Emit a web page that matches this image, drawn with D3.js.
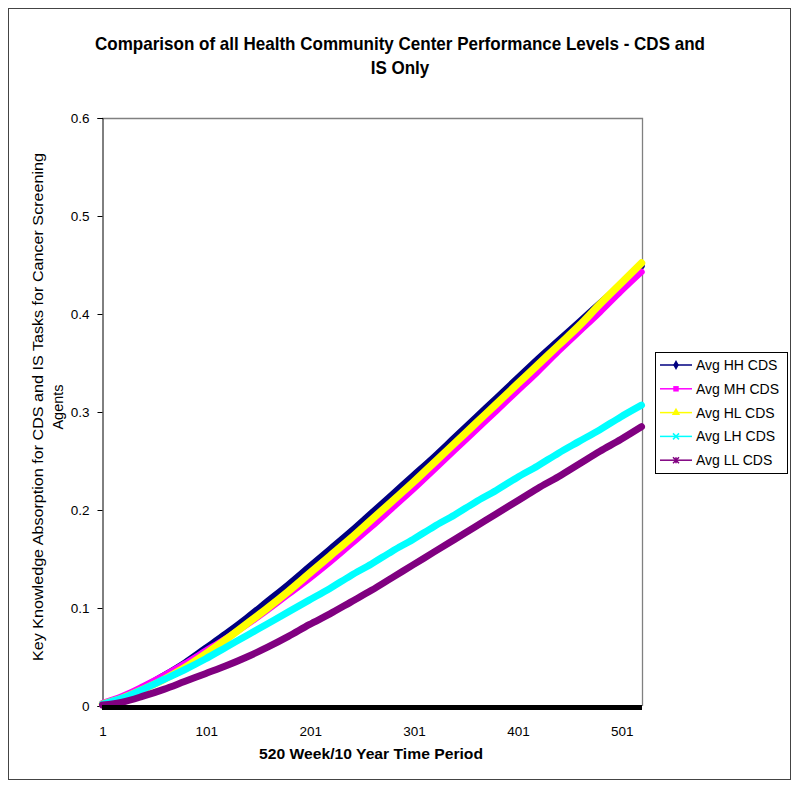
<!DOCTYPE html>
<html>
<head>
<meta charset="utf-8">
<script src="https://cdn.jsdelivr.net/npm/d3@7"></script>
<style>
  html, body { margin: 0; padding: 0; background: #fff; }
  svg { display: block; }
  text { font-family: "Liberation Sans", Arial, sans-serif; }
</style>
</head>
<body>
<svg id="chart" width="800" height="790"></svg>
<script>
// ---- data ----
const weeks = [1,20,40,60,80,100,120,140,160,180,200,220,240,260,280,300,320,340,360,380,400,420,440,460,480,500,520];
const avgHH = [0.002,0.009,0.019,0.031,0.044,0.059,0.074,0.090,0.107,0.124,0.142,0.160,0.178,0.197,0.216,0.235,0.254,0.274,0.294,0.314,0.334,0.354,0.373,0.392,0.411,0.430,0.449];
const avgMH = [0.003,0.010,0.020,0.031,0.043,0.056,0.069,0.083,0.098,0.114,0.130,0.147,0.165,0.183,0.202,0.221,0.241,0.261,0.281,0.301,0.321,0.341,0.362,0.382,0.402,0.423,0.443];
const avgHL = [0.002,0.008,0.017,0.027,0.039,0.053,0.068,0.084,0.100,0.117,0.135,0.153,0.171,0.190,0.209,0.228,0.248,0.268,0.288,0.308,0.328,0.348,0.368,0.388,0.410,0.431,0.452];
const avgLH = [0.002,0.008,0.017,0.027,0.037,0.048,0.060,0.072,0.084,0.096,0.108,0.120,0.133,0.145,0.158,0.170,0.183,0.195,0.208,0.220,0.233,0.245,0.258,0.270,0.282,0.295,0.307];
const avgLL = [0.001,0.004,0.010,0.017,0.025,0.033,0.041,0.050,0.060,0.071,0.083,0.094,0.106,0.118,0.131,0.144,0.157,0.170,0.183,0.196,0.209,0.222,0.234,0.247,0.260,0.272,0.285];
const seriesNames = ["Avg HH CDS","Avg MH CDS","Avg HL CDS","Avg LH CDS","Avg LL CDS"];
const seriesColors = ["#000080","#ff00ff","#ffff00","#00ffff","#800080"];
const seriesMarkers = ["diamond","square","triangle","x","star"];
const xTickValues = [1,101,201,301,401,501];
const yTickValues = [0,0.1,0.2,0.3,0.4,0.5,0.6];
const titleLines = ["Comparison of all Health Community Center Performance Levels - CDS and","IS Only"];
const yTitleLines = ["Key Knowledge Absorption for CDS and IS Tasks for Cancer Screening","Agents"];
const xTitle = "520 Week/10 Year Time Period";

const seriesValues = [avgHH, avgMH, avgHL, avgLH, avgLL];

const svg = d3.select("#chart");
const plot = {left: 102, right: 642, top: 118, bottom: 706};

// outer frame
svg.append("rect").attr("x", 8.5).attr("y", 8.5).attr("width", 782).attr("height", 771)
  .attr("fill", "#fff").attr("stroke", "#444").attr("stroke-width", 1);

const x = d3.scaleLinear().domain([0.5, 520.5]).range([plot.left, plot.right]);
const y = d3.scaleLinear().domain([0, 0.6]).range([plot.bottom, plot.top]);

// title (condensed bold)
const title = svg.append("g");
titleLines.forEach((t, i) => {
  const el = title.append("text").attr("text-anchor", "middle")
    .attr("x", 400).attr("y", 50 + i * 23.5)
    .style("font-weight", "bold").style("font-size", "18.5px").attr("fill", "#000").text(t);
  const nat = el.node().getComputedTextLength();
  el.attr("textLength", i === 0 ? 610 : nat * 0.92).attr("lengthAdjust", "spacingAndGlyphs");
});

// plot area border (top & right grey)
svg.append("path")
  .attr("d", `M${plot.left},${plot.top + 0.5}H${plot.right + 0.5}V${plot.bottom}`)
  .attr("fill", "none").attr("stroke", "#808080").attr("stroke-width", 1.3);

// y axis
const yAxis = d3.axisLeft(y).tickValues(yTickValues).tickSize(5).tickPadding(8)
  .tickFormat(d => d === 0 ? "0" : d3.format(".1f")(d));
const gy = svg.append("g").attr("transform", `translate(${plot.left + 0.5},0)`).call(yAxis);
gy.selectAll("text").style("font-size", "13.5px").attr("fill", "#000");
gy.selectAll("line, path").attr("stroke", "#000");

// x axis
const xAxis = d3.axisBottom(x).tickValues(xTickValues).tickSize(0).tickPadding(20)
  .tickFormat(d3.format("d"));
const gx = svg.append("g").attr("transform", `translate(0,${plot.bottom})`).call(xAxis);
gx.selectAll("text").style("font-size", "13.5px").attr("fill", "#000");
gx.select("path.domain").remove();

// lines
const line = d3.line().x(d => x(d[0])).y(d => y(d[1])).curve(d3.curveMonotoneX);
const widths = [6.5, 6.5, 7.5, 7, 7];
seriesValues.forEach((vals, i) => {
  const pts = weeks.map((w, j) => [w, vals[j]]);
  svg.append("path").datum(pts).attr("d", line)
    .attr("fill", "none").attr("stroke", seriesColors[i])
    .attr("stroke-width", widths[i]).attr("stroke-linejoin", "round").attr("stroke-linecap", "round");
});

// thick x-axis line
svg.append("line").attr("x1", plot.left).attr("x2", plot.right)
  .attr("y1", plot.bottom + 1.5).attr("y2", plot.bottom + 1.5)
  .attr("stroke", "#000").attr("stroke-width", 5);

// axis titles
svg.append("text").attr("x", 371).attr("y", 759).attr("text-anchor", "middle")
  .style("font-size", "15px").style("font-weight", "bold")
  .attr("textLength", 224).attr("lengthAdjust", "spacingAndGlyphs").text(xTitle);

const yt = svg.append("g").attr("transform", `translate(0,407) rotate(-90)`);
yTitleLines.forEach((t, i) => {
  const el = yt.append("text").attr("text-anchor", "middle").attr("x", 0).attr("y", 43 + i * 20)
    .style("font-size", "14.5px").text(t);
  if (i === 0) el.attr("textLength", 508).attr("lengthAdjust", "spacingAndGlyphs");
});

// legend
const lg = svg.append("g").attr("transform", "translate(655,352)");
lg.append("rect").attr("x", 0.5).attr("y", 0.5).attr("width", 132).attr("height", 121)
  .attr("fill", "#fff").attr("stroke", "#000").attr("stroke-width", 1);
const symbolFor = m => {
  if (m === "diamond") return d3.symbol().type(d3.symbolDiamond).size(28)();
  if (m === "square") return d3.symbol().type(d3.symbolSquare).size(30)();
  if (m === "triangle") return d3.symbol().type(d3.symbolTriangle).size(30)();
  return null;
};
seriesNames.forEach((name, i) => {
  const cy = 13 + i * 23.8;
  const g = lg.append("g").attr("transform", `translate(0,${cy})`);
  g.append("line").attr("x1", 5).attr("x2", 37).attr("y1", 0).attr("y2", 0)
    .attr("stroke", seriesColors[i]).attr("stroke-width", 1.5);
  const m = seriesMarkers[i];
  const sp = symbolFor(m);
  if (sp) {
    g.append("path").attr("d", sp).attr("transform", "translate(21,0)").attr("fill", seriesColors[i]);
  } else {
    const s = 3;
    g.append("path").attr("d", `M${21 - s},${-s}L${21 + s},${s}M${21 - s},${s}L${21 + s},${-s}` + (m === "star" ? `M21,${-s}L21,${s}` : ""))
      .attr("stroke", seriesColors[i]).attr("stroke-width", 1.5).attr("fill", "none");
  }
  g.append("text").attr("x", 41).attr("y", 5).style("font-size", "14px").attr("fill", "#000").text(name);
});
</script>
</body>
</html>
